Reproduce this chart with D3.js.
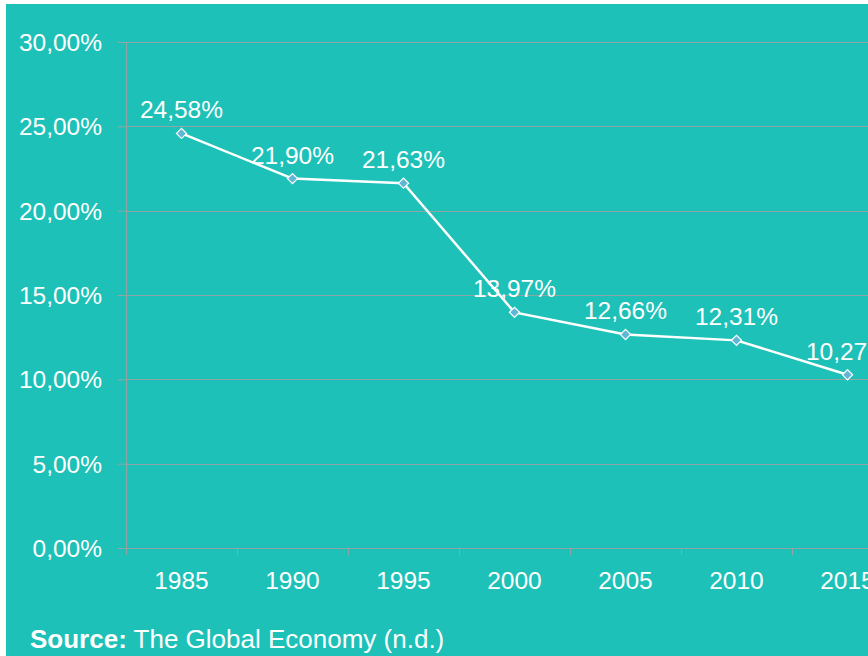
<!DOCTYPE html>
<html>
<head>
<meta charset="utf-8">
<script src="https://cdn.jsdelivr.net/npm/d3@7"></script>
<style>
  html, body { margin: 0; padding: 0; background: #fff; }
  svg { display: block; }
  text { font-family: "Liberation Sans", Arial, sans-serif; fill: #fff; }
</style>
</head>
<body>
<svg id="chart"></svg>
<script>
const years = ['1985', '1990', '1995', '2000', '2005', '2010', '2015'];
const values = [24.58, 21.90, 21.63, 13.97, 12.66, 12.31, 10.27];
const yTicks = [0, 5, 10, 15, 20, 25, 30];
const sourceLabel = 'Source:';
const sourceText = ' The Global Economy (n.d.)';

const width = 868;
const height = 656;
const margin = { top: 42, left: 126, bottom: 108 };
const bandWidth = 111;
const labelSize = 24.5;

const svg = d3.select('#chart')
  .attr('width', width)
  .attr('height', height);

// teal panel
svg.append('rect')
  .attr('x', 6)
  .attr('y', 4)
  .attr('width', width - 6)
  .attr('height', height - 4)
  .attr('fill', '#1dc1b7');

const innerHeight = height - margin.top - margin.bottom;

const x = d3.scaleBand()
  .domain(years)
  .range([margin.left, margin.left + bandWidth * years.length]);
const y = d3.scaleLinear()
  .domain([0, 30])
  .range([margin.top + innerHeight, margin.top]);

const fmt = v => d3.format('.2f')(v).replace('.', ',') + '%';

// small ticks left of the axis
svg.append('g')
  .attr('transform', `translate(${margin.left}, 0)`)
  .call(d3.axisLeft(y)
    .tickValues(yTicks)
    .tickSize(8)
    .tickFormat(''))
  .call(g => g.select('.domain').remove())
  .call(g => g.selectAll('.tick line').attr('stroke', '#8fa7a4'));

// gridlines
svg.append('g')
  .selectAll('line')
  .data(yTicks)
  .enter().append('line')
    .attr('x1', margin.left)
    .attr('x2', width)
    .attr('y1', d => Math.round(y(d)) + 0.5)
    .attr('y2', d => Math.round(y(d)) + 0.5)
    .attr('stroke', '#8fa7a4')
    .attr('stroke-width', 1);

// vertical axis line
svg.append('line')
  .attr('x1', margin.left + 0.5)
  .attr('x2', margin.left + 0.5)
  .attr('y1', y(30))
  .attr('y2', y(0) + 7)
  .attr('stroke', '#8fa7a4');

// y labels
svg.append('g')
  .selectAll('text')
  .data(yTicks)
  .enter().append('text')
    .attr('x', 102)
    .attr('y', d => y(d) + 9)
    .attr('text-anchor', 'end')
    .attr('font-size', labelSize)
    .text(fmt);

// x ticks between bands
svg.append('g')
  .selectAll('line')
  .data(years)
  .enter().append('line')
    .attr('x1', d => x(d) + bandWidth + 0.5)
    .attr('x2', d => x(d) + bandWidth + 0.5)
    .attr('y1', y(0))
    .attr('y2', y(0) + 7)
    .attr('stroke', '#8fa7a4');

// x labels
svg.append('g')
  .selectAll('text')
  .data(years)
  .enter().append('text')
    .attr('x', d => x(d) + x.bandwidth() / 2)
    .attr('y', 589)
    .attr('text-anchor', 'middle')
    .attr('font-size', labelSize)
    .text(d => d);

const pts = years.map((d, i) => ({ year: d, value: values[i] }));
const cx = d => x(d.year) + x.bandwidth() / 2;

// line
svg.append('path')
  .datum(pts)
  .attr('fill', 'none')
  .attr('stroke', '#fff')
  .attr('stroke-width', 2.5)
  .attr('d', d3.line().x(cx).y(d => y(d.value)));

// markers
svg.append('g')
  .selectAll('path')
  .data(pts)
  .enter().append('path')
    .attr('transform', d => `translate(${cx(d)}, ${y(d.value)}) rotate(45)`)
    .attr('d', 'M-3.6,-3.6H3.6V3.6H-3.6Z')
    .attr('fill', '#5fb6d6')
    .attr('stroke', '#fff')
    .attr('stroke-width', 1.2);

// value labels
svg.append('g')
  .selectAll('text')
  .data(pts)
  .enter().append('text')
    .attr('x', cx)
    .attr('y', d => y(d.value) - 15)
    .attr('text-anchor', 'middle')
    .attr('font-size', labelSize)
    .text(d => fmt(d.value));

// source
const src = svg.append('text')
  .attr('x', 30)
  .attr('y', 648)
  .attr('font-size', 26);
src.append('tspan').attr('font-weight', 'bold').text(sourceLabel);
src.append('tspan').text(sourceText);
</script>
</body>
</html>
